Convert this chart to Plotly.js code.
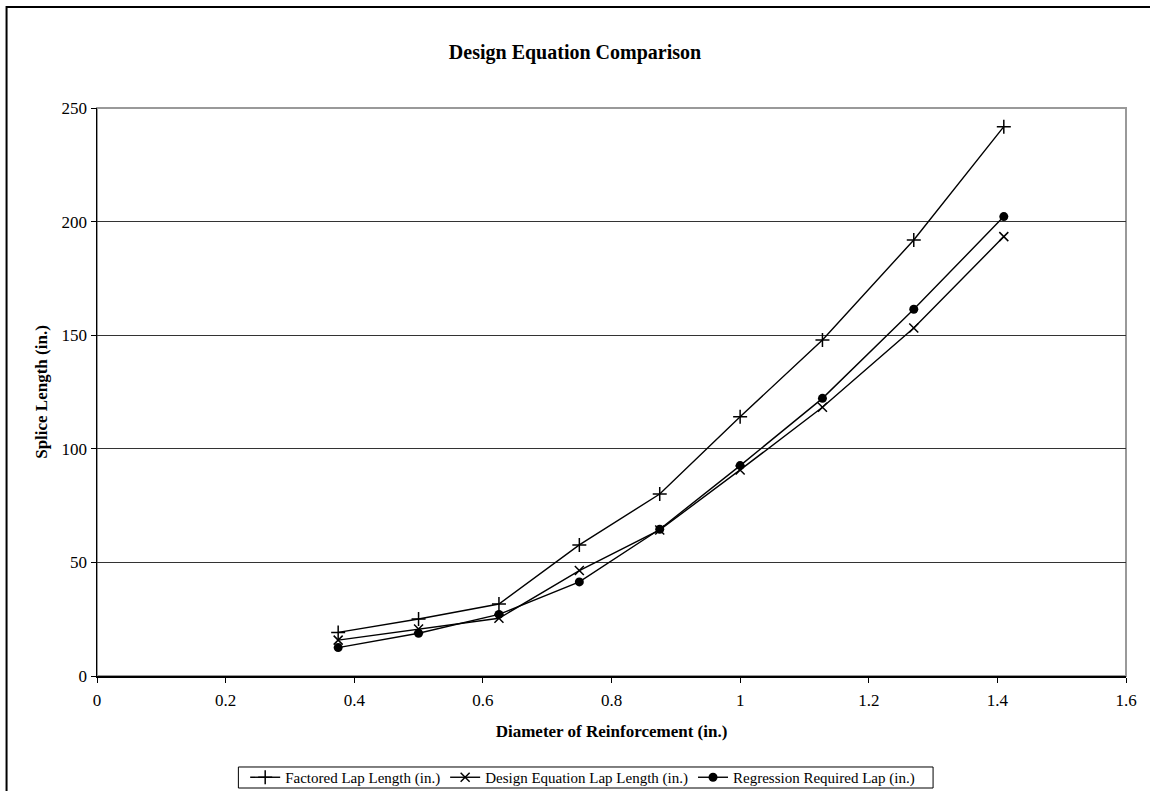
<!DOCTYPE html>
<html>
<head>
<meta charset="utf-8">
<script src="https://cdn.plot.ly/plotly-3.0.1.min.js"></script>
<style>
  html, body { margin: 0; padding: 0; background: #fff; }
  #chart { width: 1150px; height: 791px; }
</style>
</head>
<body>
<div id="chart"></div>
<script>
// Bar diameters (in.)
const diameters = [0.375, 0.5, 0.625, 0.75, 0.875, 1.0, 1.128, 1.27, 1.41];

// Splice lengths (in.) for each method
const factoredLap = [19.2, 25.1, 31.7, 57.7, 80.1, 114.1, 147.9, 191.9, 241.8];
const designEquationLap = [15.8, 20.7, 25.4, 46.4, 64.3, 90.7, 118.3, 153.2, 193.4];
const regressionLap = [12.5, 18.8, 27.1, 41.4, 64.6, 92.6, 122.2, 161.4, 202.2];

const seriesNames = [
  'Factored Lap Length (in.)',
  'Design Equation Lap Length (in.)',
  'Regression Required Lap (in.)'
];

const xTicks = [0, 0.2, 0.4, 0.6, 0.8, 1, 1.2, 1.4, 1.6];
const xTickText = ['0', '0.2', '0.4', '0.6', '0.8', '1', '1.2', '1.4', '1.6'];
const yTicks = [0, 50, 100, 150, 200, 250];

const serif = 'Liberation Serif, Times New Roman, serif';

const traces = [
  {
    x: diameters, y: factoredLap, name: seriesNames[0],
    type: 'scatter', mode: 'lines+markers',
    line: { color: '#000', width: 1.4 },
    marker: { symbol: 'cross-thin-open', size: 10, color: '#000', line: { color: '#000', width: 1.5 } }
  },
  {
    x: diameters, y: designEquationLap, name: seriesNames[1],
    type: 'scatter', mode: 'lines+markers',
    line: { color: '#000', width: 1.4 },
    marker: { symbol: 'x-thin-open', size: 9, color: '#000', line: { color: '#000', width: 1.5 } }
  },
  {
    x: diameters, y: regressionLap, name: seriesNames[2],
    type: 'scatter', mode: 'lines+markers',
    line: { color: '#000', width: 1.4 },
    marker: { symbol: 'circle', size: 9, color: '#000' }
  }
];

const layout = {
  width: 1150,
  height: 791,
  paper_bgcolor: '#fff',
  plot_bgcolor: '#fff',
  margin: { l: 96.5, r: 24, t: 108, b: 115, autoexpand: false },
  font: { family: serif, size: 17, color: '#000' },
  title: {
    text: '<b>Design Equation Comparison</b>',
    font: { family: serif, size: 20, color: '#000' },
    x: 0.5, xanchor: 'center',
    y: 1 - 52 / 791, yanchor: 'middle'
  },
  xaxis: {
    range: [0, 1.6],
    tickvals: xTicks,
    ticktext: xTickText,
    ticks: 'outside', ticklen: 5, tickcolor: '#000', tickwidth: 1,
    ticklabelstandoff: 3,
    showline: true, linecolor: '#000', linewidth: 1.5,
    showgrid: false, zeroline: false,
    tickfont: { family: serif, size: 17 },
    title: {
      text: '<b>Diameter of Reinforcement (in.)</b>',
      font: { family: serif, size: 17 },
      standoff: 16
    }
  },
  yaxis: {
    range: [0, 250],
    tickvals: yTicks,
    ticks: 'outside', ticklen: 5, tickcolor: '#000', tickwidth: 1,
    showline: true, linecolor: '#000', linewidth: 1.5,
    showgrid: true, gridcolor: '#333', gridwidth: 1,
    zeroline: false,
    tickfont: { family: serif, size: 17 },
    title: {
      text: '<b>Splice Length (in.)</b>',
      font: { family: serif, size: 17 },
      standoff: 9
    }
  },
  showlegend: true,
  legend: {
    orientation: 'h',
    x: 0.472, xanchor: 'center',
    y: -0.1787, yanchor: 'middle',
    borderwidth: 0,
    bgcolor: 'rgba(0,0,0,0)',
    font: { family: serif, size: 15, color: '#000' },
    itemwidth: 30,
    tracegroupgap: 0
  },
  shapes: [
    // grey frame around the plotting area
    {
      type: 'rect', xref: 'paper', yref: 'paper',
      x0: 0, x1: 1, y0: 0, y1: 1,
      line: { color: '#999', width: 2 }, layer: 'below'
    },
    // thin box around the legend entries
    {
      type: 'rect', xref: 'paper', yref: 'paper',
      x0: 0.1374, x1: 0.8125, y0: -0.1972, y1: -0.1602,
      line: { color: '#000', width: 1 }, fillcolor: 'rgba(0,0,0,0)', layer: 'above'
    },
    // outer chart frame
    {
      type: 'rect', xref: 'paper', yref: 'paper',
      x0: -0.0879, x1: 1.2, y0: -0.35, y1: 1.1778,
      line: { color: '#000', width: 2 }, layer: 'above'
    }
  ]
};

Plotly.newPlot('chart', traces, layout, { displayModeBar: false, staticPlot: true });
</script>
</body>
</html>
